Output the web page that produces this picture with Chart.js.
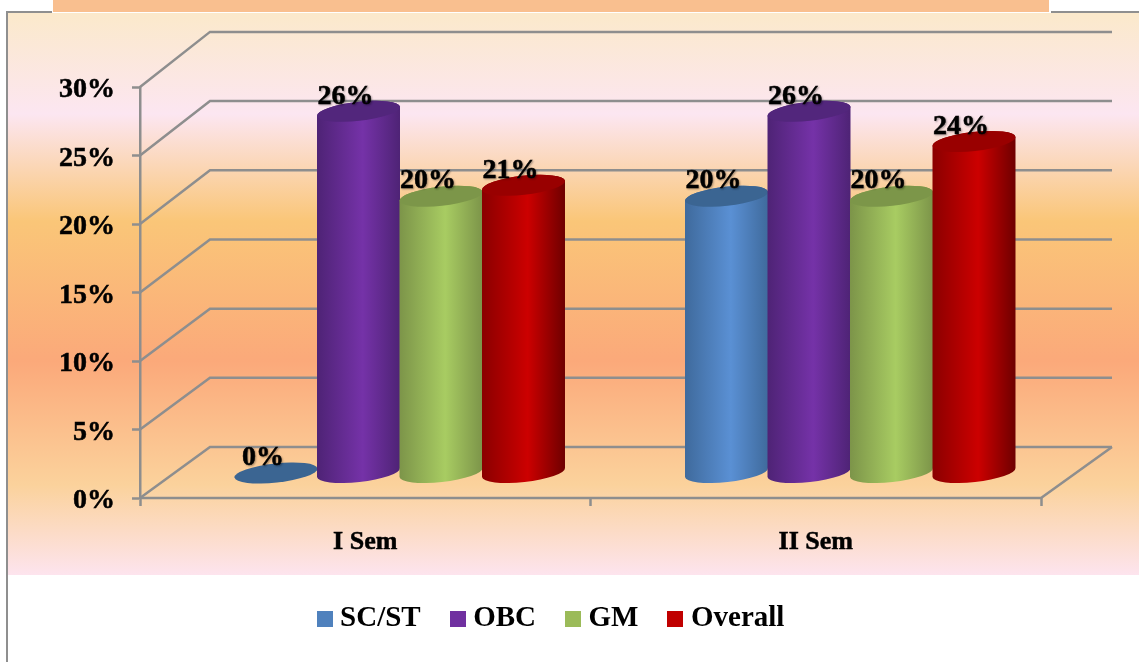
<!DOCTYPE html>
<html><head><meta charset="utf-8">
<style>html,body{margin:0;padding:0;background:#fff}canvas{display:block}</style>
<script src="https://cdn.jsdelivr.net/npm/chart.js@4"></script>
</head><body><canvas id="c" width="1139" height="662"></canvas>
<script>
const categories = ['I Sem', 'II Sem'];
const scSt = [0, 20.2];
const obc = [26.4, 26.4];
const gm = [20.2, 20.2];
const overall = [21, 24.2];
const seriesNames = ['SC/ST', 'OBC', 'GM', 'Overall'];
const seriesColors = ['#4F81BD', '#7030A0', '#9BBB59', '#C00000'];
const FONT = '"Liberation Serif", serif';

const palette = [
  {edgeL:'#3F6A9C', mid:'#5A90D4', edgeR:'#3F6A9C', top:'#3B6592'},
  {edgeL:'#4E2375', mid:'#7532A8', edgeR:'#4E2375', top:'#52267C'},
  {edgeL:'#7C9449', mid:'#A8CC62', edgeR:'#7C9449', top:'#7C9649'},
  {edgeL:'#8A0000', mid:'#CC0000', edgeR:'#6E0000', top:'#990000'}
];
const DX = 34.5, DY = -25, RY = 9.5, ROT = -0.11;

function legendSwatch(color){
  const s = document.createElement('canvas'); s.width = 16; s.height = 16;
  const g = s.getContext('2d'); g.fillStyle = color; g.fillRect(0,0,16,16);
  return s;
}

const scene = {
  id: 'scene',
  afterLayout(chart){
    chart.legend.left += 5;
    chart.legend.right += 5;
  },
  beforeDraw(chart){
    const c = chart.ctx;
    const g = c.createLinearGradient(0,13,0,575);
    g.addColorStop(0,'#FBE9CB');
    g.addColorStop(0.18,'#FCE6F1');
    g.addColorStop(0.37,'#FAC678');
    g.addColorStop(0.62,'#FBA97A');
    g.addColorStop(0.84,'#FBD29C');
    g.addColorStop(1,'#FDE4EE');
    c.save();
    c.fillStyle = g; c.fillRect(8,13,1131,562);
    c.fillStyle = '#F9BF8F'; c.fillRect(53,0,996,12);
    c.fillStyle = '#8F8F8F';
    c.fillRect(6,11,2,651);
    c.fillRect(6,11,46,2);
    c.fillRect(1051,11,88,2);
    c.restore();
  },
  beforeDatasetsDraw(chart){
    const c = chart.ctx, y = chart.scales.y, a = chart.chartArea;
    c.save();
    c.strokeStyle = '#8E8E8E'; c.lineWidth = 2.5;
    y.ticks.forEach(t => {
      const py = y.getPixelForValue(t.value);
      const by = 447 - (a.bottom - py) * 1.01;
      c.beginPath(); c.moveTo(a.left, py); c.lineTo(a.left + 70, by); c.lineTo(1112, by); c.stroke();
    });
    c.beginPath(); c.moveTo(a.left, a.bottom); c.lineTo(a.right, a.bottom); c.lineTo(1112, 447); c.stroke();
    c.restore();
  },
  beforeDatasetDraw(){ return false; },
  afterDatasetsDraw(chart){
    const c = chart.ctx;
    chart.data.datasets.forEach((ds, di) => {
      const p = palette[di];
      chart.getDatasetMeta(di).data.forEach(el => {
        const cx = el.x + DX, rx = el.width / 2 + 0.5, ty = el.y + DY, by = el.base + DY;
        const gr = c.createLinearGradient(cx - rx, 0, cx + rx, 0);
        gr.addColorStop(0, p.edgeL); gr.addColorStop(0.55, p.mid); gr.addColorStop(1, p.edgeR);
        c.save();
        if (by - ty > 0.5) {
          c.beginPath();
          c.ellipse(cx, by, rx, RY, ROT, 0, Math.PI);
          c.ellipse(cx, ty, rx, RY, ROT, Math.PI, 2 * Math.PI);
          c.closePath();
          c.fillStyle = gr; c.fill();
        }
        c.beginPath(); c.ellipse(cx, ty, rx, RY, ROT, 0, 2 * Math.PI);
        c.fillStyle = p.top; c.fill();
        c.restore();
      });
    });
    chart.data.datasets.forEach((ds, di) => {
      chart.getDatasetMeta(di).data.forEach((el, i) => {
        c.save();
        c.font = 'bold 28px ' + FONT; c.fillStyle = '#000'; c.strokeStyle = '#000'; c.lineWidth = 0.5;
        c.textAlign = 'center'; c.textBaseline = 'middle';
        c.shadowColor = 'rgba(0,0,0,0.3)'; c.shadowBlur = 2; c.shadowOffsetX = 1; c.shadowOffsetY = 1;
        const t = Math.round(ds.data[i]) + '%', tx = el.x + DX - 13, ty = el.y + DY - 15;
        c.fillText(t, tx, ty); c.strokeText(t, tx, ty);
        c.restore();
      });
    });
  }
};

new Chart(document.getElementById('c'), {
  type: 'bar',
  data: {
    labels: categories,
    datasets: [scSt, obc, gm, overall].map((d, i) => ({
      label: seriesNames[i], data: d, backgroundColor: seriesColors[i],
      categoryPercentage: 0.7325, barPercentage: 1
    }))
  },
  plugins: [scene],
  options: {
    responsive: false, animation: false,
    layout: { padding: { left: 57, right: 98, top: 87, bottom: 19 } },
    scales: {
      x: {
        afterFit(s){ s.height = 70; },
        grid: { drawOnChartArea: false, tickColor: '#8E8E8E', tickWidth: 2.5, tickLength: 8 },
        border: { display: false },
        ticks: { color: '#000', padding: 21, textStrokeColor: '#000', textStrokeWidth: 0.5,
                 font: { family: FONT, weight: 'bold', size: 26 } }
      },
      y: {
        min: 0, max: 30,
        afterFit(s){ s.width = 83; },
        grid: { drawOnChartArea: false, tickColor: '#8E8E8E', tickWidth: 2.5, tickLength: 8 },
        border: { display: true, color: '#8E8E8E', width: 2.5 },
        ticks: { stepSize: 5, color: '#000', padding: 17, labelOffset: 3, callback: v => v + '%',
                 textStrokeColor: '#000', textStrokeWidth: 0.5,
                 font: { family: FONT, weight: 'bold', size: 28 } }
      }
    },
    plugins: {
      tooltip: { enabled: false },
      legend: {
        position: 'bottom',
        labels: {
          color: '#000', usePointStyle: true, pointStyleWidth: 2, padding: 36,
          font: { family: FONT, weight: 'bold', size: 29 },
          generateLabels(chart){
            return Chart.defaults.plugins.legend.labels.generateLabels(chart).map((l, i) =>
              Object.assign(l, { pointStyle: legendSwatch(seriesColors[i]) }));
          }
        }
      }
    }
  }
});
</script></body></html>
